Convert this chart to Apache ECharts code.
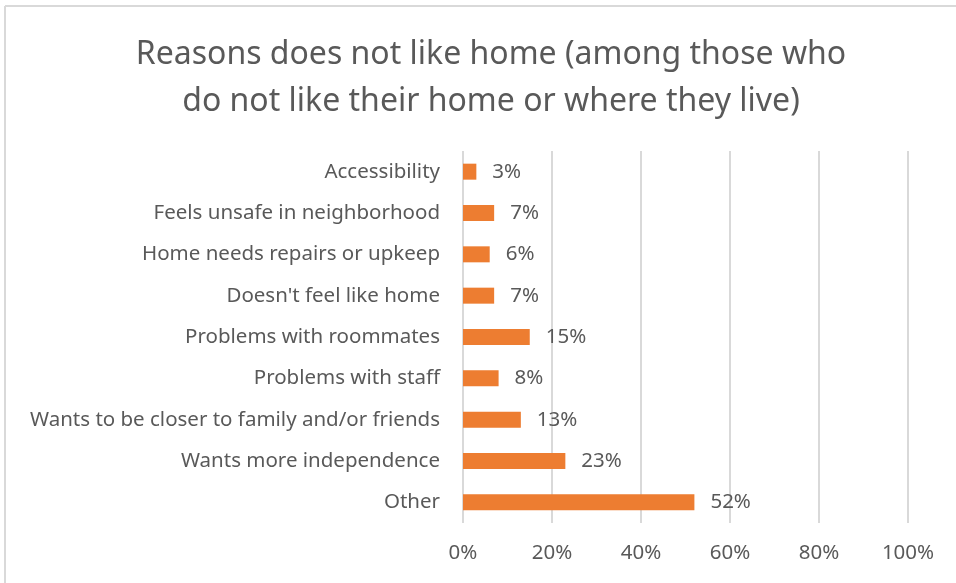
<!DOCTYPE html>
<html>
<head>
<meta charset="utf-8">
<script src="https://cdn.jsdelivr.net/npm/echarts@6/dist/echarts.min.js"></script>
<style>html,body{margin:0;padding:0;background:#fff;}#c{width:956px;height:583px;}</style>
</head>
<body>
<div id="c"></div>
<script>
const categories = ["Accessibility","Feels unsafe in neighborhood","Home needs repairs or upkeep","Doesn't feel like home","Problems with roommates","Problems with staff","Wants to be closer to family and/or friends","Wants more independence","Other"];
const values = [3,7,6,7,15,8,13,23,52];
const titleLines = ["Reasons does not like home (among those who","do not like their home or where they live)"];
const xTicks = [0,20,40,60,80,100];

const font = "Noto Sans";
const chart = echarts.init(document.getElementById('c'));
chart.setOption({
  animation: false,
  backgroundColor: '#ffffff',
  title: {
    text: titleLines.join('\n'),
    left: 486, textAlign: 'center', top: 26,
    textStyle: {fontFamily: font, fontSize: 32, fontWeight: 'normal', color: '#595959', lineHeight: 47}
  },
  grid: {left: 463, right: 48, top: 151, bottom: 60, containLabel: false},
  xAxis: {
    type: 'value', min: xTicks[0], max: xTicks[xTicks.length-1], interval: 20,
    axisLine: {show: false}, axisTick: {show: false},
    splitLine: {lineStyle: {color: '#d9d9d9', width: 2}},
    axisLabel: {formatter: '{value}%', color: '#595959', fontFamily: font, fontSize: 20.5, margin: 20}
  },
  yAxis: {
    type: 'category', data: categories, inverse: true,
    axisLine: {show: false}, axisTick: {show: false},
    axisLabel: {color: '#595959', fontFamily: font, fontSize: 20.5, margin: 23}
  },
  series: [{
    type: 'bar', data: values, barWidth: 16,
    itemStyle: {color: '#ED7D31'},
    label: {show: true, position: 'right', distance: 16, formatter: '{c}%', color: '#595959', fontFamily: font, fontSize: 20.5}
  }],
  graphic: [
    {type: 'line', shape: {x1: 5, y1: 6, x2: 956, y2: 6}, style: {stroke: '#d9d9d9', lineWidth: 2}},
    {type: 'line', shape: {x1: 5, y1: 6, x2: 5, y2: 583}, style: {stroke: '#d9d9d9', lineWidth: 2}}
  ]
});
</script>
</body>
</html>
